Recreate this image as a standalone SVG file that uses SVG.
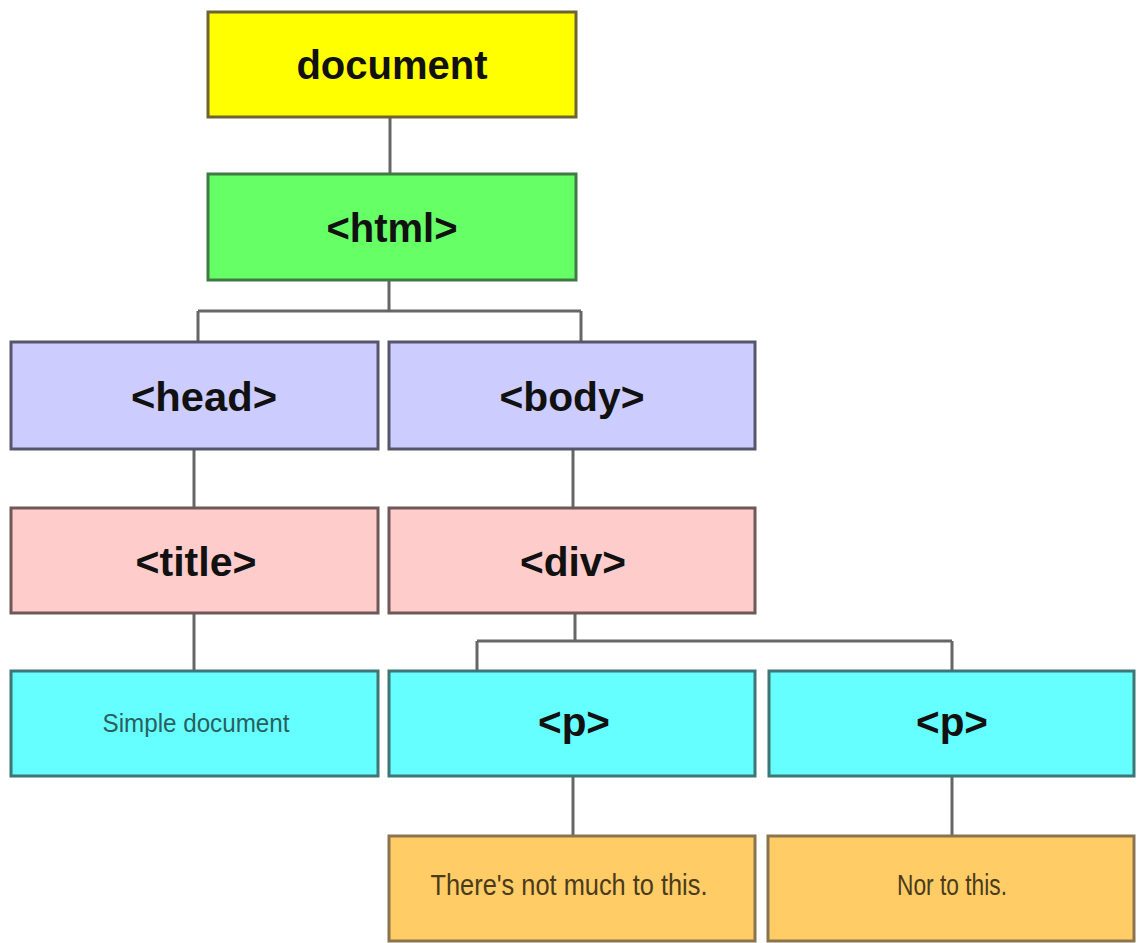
<svg xmlns="http://www.w3.org/2000/svg" width="1143" height="943" viewBox="0 0 1143 943">
<style>
.box{stroke-width:3}
.lbl{font-family:"Liberation Sans",Arial,sans-serif;font-weight:bold;font-size:40px;fill:#111;text-anchor:middle}
.sm{font-family:"Liberation Sans",Arial,sans-serif;text-anchor:middle}
.doc{fill:#ffff00;stroke:#6e6433}
.html{fill:#66ff66;stroke:#3f7a45}
.hb{fill:#ccccff;stroke:#55566a}
.td{fill:#ffcccc;stroke:#6e5858}
.p{fill:#66ffff;stroke:#3e7575}
.leaf{fill:#ffcc66;stroke:#8a7450}
.con{fill:none;stroke:#666;stroke-width:3}
</style>
<rect width="1143" height="943" fill="#ffffff"/>
<g id="connectors">
<path class="con" d="M390 117V174"/>
<path class="con" d="M389 280V311M198 311H581M198 311V342M581 311V342"/>
<path class="con" d="M194 449V508"/>
<path class="con" d="M573 449V508"/>
<path class="con" d="M194 613V671"/>
<path class="con" d="M575 613V641M477 641H952M477 641V671M952 641V671"/>
<path class="con" d="M573 776V836"/>
<path class="con" d="M952 776V836"/>
</g>
<g id="document"><rect class="box doc" x="208" y="12" width="368" height="105"/><text class="lbl" x="392" y="79">document</text></g>
<g id="html"><rect class="box html" x="208" y="174" width="368" height="106"/><text class="lbl" x="392" y="242">&lt;html&gt;</text></g>
<g id="head"><rect class="box hb" x="11" y="342" width="367" height="107"/><text class="lbl" x="204" y="411" textLength="146" lengthAdjust="spacingAndGlyphs">&lt;head&gt;</text></g>
<g id="body"><rect class="box hb" x="389" y="342" width="366" height="107"/><text class="lbl" x="572" y="411" textLength="145" lengthAdjust="spacingAndGlyphs">&lt;body&gt;</text></g>
<g id="title"><rect class="box td" x="11" y="508" width="367" height="105"/><text class="lbl" x="196" y="576" textLength="121" lengthAdjust="spacingAndGlyphs">&lt;title&gt;</text></g>
<g id="div"><rect class="box td" x="389" y="508" width="366" height="105"/><text class="lbl" x="573" y="576" textLength="106" lengthAdjust="spacingAndGlyphs">&lt;div&gt;</text></g>
<g id="text-simple"><rect class="box p" x="11" y="671" width="367" height="105"/><text class="sm" x="196" y="732" style="font-size:26px;fill:#2a5f5f" textLength="187" lengthAdjust="spacingAndGlyphs">Simple document</text></g>
<g id="p1"><rect class="box p" x="389" y="671" width="366" height="105"/><text class="lbl" x="574" y="736" textLength="72" lengthAdjust="spacingAndGlyphs">&lt;p&gt;</text></g>
<g id="p2"><rect class="box p" x="769" y="671" width="365" height="105"/><text class="lbl" x="952" y="736" textLength="72" lengthAdjust="spacingAndGlyphs">&lt;p&gt;</text></g>
<g id="text-1"><rect class="box leaf" x="389" y="836" width="366" height="105"/><text class="sm" x="569" y="895" style="font-size:30px;fill:#4a3b1c" textLength="277" lengthAdjust="spacingAndGlyphs">There's not much to this.</text></g>
<g id="text-2"><rect class="box leaf" x="768" y="836" width="366" height="105"/><text class="sm" x="952" y="895" style="font-size:30px;fill:#4a3b1c" textLength="110" lengthAdjust="spacingAndGlyphs">Nor to this.</text></g>
</svg>
